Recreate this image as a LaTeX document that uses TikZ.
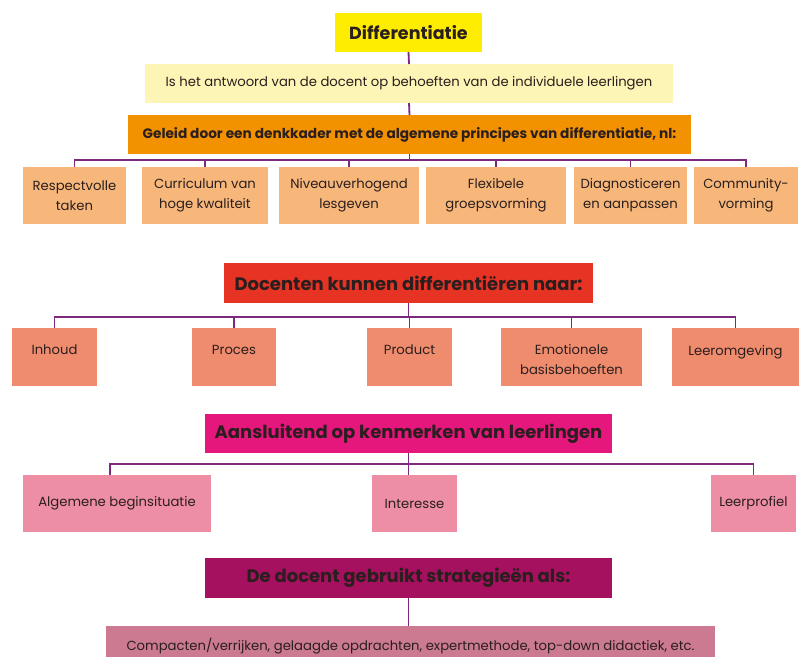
\documentclass[tikz,border=0pt]{standalone}
\usepackage{fontspec}
\setmainfont{Poppins}
\definecolor{cTitle}{HTML}{FFED00}
\definecolor{cLy}{HTML}{FDF5B5}
\definecolor{cOr}{HTML}{F39200}
\definecolor{cR1}{HTML}{F7B77A}
\definecolor{cRed}{HTML}{E63323}
\definecolor{cR2}{HTML}{F08C6E}
\definecolor{cMag}{HTML}{E5177D}
\definecolor{cR3}{HTML}{EE8EA5}
\definecolor{cDark}{HTML}{A5105F}
\definecolor{cBot}{HTML}{CB7A92}
\definecolor{cLine}{HTML}{7B2A7E}
\definecolor{cTxt}{HTML}{2A1E1E}
\tikzset{
  box/.style={inner sep=0pt, outer sep=0pt, align=center, text=cTxt},
  head/.style={box, font=\bfseries\fontsize{18}{21}\selectfont},
  small/.style={box, font=\fontsize{13.2}{20}\selectfont},
  conn/.style={draw=cLine, line width=1.8pt},
}
\begin{document}
\begin{tikzpicture}[x=1pt,y=-1pt]
\useasboundingbox (0,0) rectangle (799,656);
\clip (0,0) rectangle (799,656);
\fill[white] (0,0) rectangle (799,656);
% top
\node[head, font=\bfseries\fontsize{17.5}{21}\selectfont, fill=cTitle, minimum width=147pt, minimum height=39pt] (title) at (408.5,32.5) {Differentiatie};
\node[small, fill=cLy, minimum width=528pt, minimum height=39pt] (def) at (409,83.5) {Is het antwoord van de docent op behoeften van de individuele leerlingen};
\node[box, font=\bfseries\fontsize{13.7}{16}\selectfont, fill=cOr, minimum width=563pt, minimum height=39pt] (kader) at (409.5,134.5) {Geleid door een denkkader met de algemene principes van differentiatie, nl:};
\draw[conn] (title.south) -- (def.north);
\draw[conn] (def.south) -- (kader.north);
% row 1
\foreach \n/\x/\w/\t in {a1/74.5/103/{Respectvolle\\taken}, a2/205/126/{Curriculum van\\hoge kwaliteit}, a3/349/140/{Niveauverhogend\\lesgeven}, a4/496/140/{Flexibele\\groepsvorming}, a5/630.5/113/{Diagnosticeren\\en aanpassen}, a6/746/104/{Community-\\vorming}}{
  \node[small, fill=cR1, minimum width=\w pt, minimum height=57pt] (\n) at (\x,195.5) {\t};
}
\coordinate (bus1) at (409.5,160);
\draw[conn] (kader.south) -- (bus1);
\draw[conn] (a1.north) -- (a1.north |- bus1) -- (a6.north |- bus1) -- (a6.north);
\foreach \n in {a2,a3,a4,a5}{\draw[conn] (\n.north |- bus1) -- (\n.north);}
% section 2
\node[head, fill=cRed, minimum width=369pt, minimum height=40pt] (naar) at (408.5,283) {Docenten kunnen differentiëren naar:};
\foreach \n/\x/\w/\t in {b1/54.5/85/{Inhoud}, b2/234/84/{Proces}, b3/409.5/85/{Product}, b5/735.5/127/{Leeromgeving}}{
  \node[small, fill=cR2, minimum width=\w pt, minimum height=58pt] (\n) at (\x,357) {\t\\[-12pt]\strut};
}
\node[small, fill=cR2, minimum width=141pt, minimum height=58pt] (b4) at (571.5,357) {\rule{0pt}{16pt}Emotionele\\basisbehoeften};
\coordinate (bus2) at (408.5,317);
\draw[conn] (naar.south) -- (bus2);
\draw[conn] (b1.north) -- (b1.north |- bus2) -- (b5.north |- bus2) -- (b5.north);
\foreach \n in {b2,b3,b4}{\draw[conn] (\n.north |- bus2) -- (\n.north);}
% section 3
\node[head, fill=cMag, minimum width=407pt, minimum height=39pt] (kenm) at (408.5,433.5) {Aansluitend op kenmerken van leerlingen};
\node[small, fill=cR3, minimum width=188pt, minimum height=57pt] (c1) at (117,503.5) {Algemene beginsituatie};
\node[small, fill=cR3, minimum width=85pt, minimum height=57pt] (c2) at (414.5,503.5) {Interesse};
\node[small, fill=cR3, minimum width=85pt, minimum height=57pt] (c3) at (753.5,503.5) {Leerprofiel};
\coordinate (bus3) at (408.5,464);
\coordinate (t1) at (110,475);
\coordinate (t2) at (408.5,475);
\draw[conn] (kenm.south) -- (t2);
\draw[conn] (t1) -- (t1 |- bus3) -- (c3.north |- bus3) -- (c3.north);
% section 4
\node[head, fill=cDark, minimum width=407pt, minimum height=40pt] (strat) at (408.5,578) {De docent gebruikt strategieën als:};
\node[small, fill=cBot, minimum width=609pt, minimum height=40pt] (bot) at (410.5,646) {Compacten/verrijken, gelaagde opdrachten, expertmethode, top-down didactiek, etc.};
\draw[conn] (strat.south) -- (strat.south |- bot.north);
\end{tikzpicture}
\end{document}
